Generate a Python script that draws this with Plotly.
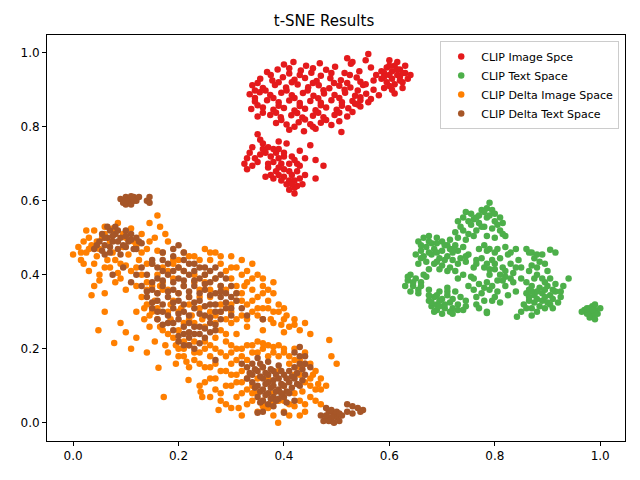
import plotly.graph_objects as go

# t-SNE coordinates (x, y)
image_space = [
    (0.400, 0.968), (0.418, 0.975), (0.442, 0.965), (0.468, 0.972), (0.497, 0.962), (0.527, 0.970),
    (0.368, 0.948), (0.388, 0.955), (0.410, 0.944), (0.432, 0.952), (0.452, 0.946), (0.480, 0.954),
    (0.515, 0.945), (0.543, 0.950),
    (0.355, 0.930), (0.378, 0.925), (0.398, 0.934), (0.420, 0.927), (0.440, 0.932), (0.462, 0.924),
    (0.488, 0.931), (0.508, 0.926), (0.538, 0.933),
    (0.340, 0.912), (0.360, 0.905), (0.383, 0.913), (0.404, 0.906), (0.426, 0.914), (0.446, 0.907),
    (0.466, 0.912), (0.486, 0.904), (0.505, 0.911), (0.526, 0.906), (0.550, 0.913),
    (0.335, 0.888), (0.354, 0.893), (0.374, 0.886), (0.395, 0.892), (0.415, 0.885), (0.436, 0.891),
    (0.456, 0.884), (0.476, 0.890), (0.496, 0.886), (0.516, 0.892), (0.535, 0.884), (0.556, 0.889),
    (0.345, 0.868), (0.368, 0.872), (0.390, 0.866), (0.410, 0.871), (0.430, 0.864), (0.450, 0.870),
    (0.470, 0.865), (0.490, 0.872), (0.510, 0.866), (0.530, 0.870), (0.560, 0.866),
    (0.338, 0.848), (0.360, 0.852), (0.380, 0.846), (0.400, 0.851), (0.420, 0.844), (0.440, 0.849),
    (0.460, 0.845), (0.480, 0.852), (0.500, 0.846), (0.522, 0.850), (0.545, 0.855),
    (0.350, 0.828), (0.374, 0.832), (0.394, 0.826), (0.414, 0.831), (0.435, 0.825), (0.455, 0.830),
    (0.475, 0.826), (0.496, 0.832), (0.520, 0.828),
    (0.385, 0.810), (0.405, 0.806), (0.428, 0.812), (0.450, 0.807), (0.470, 0.811), (0.490, 0.805),
    (0.410, 0.792), (0.438, 0.788), (0.460, 0.795), (0.509, 0.786),
    (0.410, 0.958), (0.455, 0.958), (0.490, 0.945), (0.375, 0.940), (0.430, 0.940), (0.470, 0.938),
    (0.525, 0.940), (0.350, 0.918), (0.390, 0.920), (0.415, 0.920), (0.455, 0.918), (0.495, 0.918),
    (0.520, 0.918), (0.545, 0.922), (0.345, 0.898), (0.365, 0.898), (0.405, 0.898), (0.445, 0.898),
    (0.475, 0.899), (0.515, 0.900), (0.540, 0.898), (0.345, 0.878), (0.380, 0.878), (0.420, 0.878),
    (0.465, 0.877), (0.505, 0.878), (0.545, 0.872), (0.350, 0.858), (0.390, 0.857), (0.430, 0.856),
    (0.470, 0.858), (0.510, 0.857), (0.535, 0.862), (0.360, 0.838), (0.385, 0.838), (0.425, 0.837),
    (0.465, 0.838), (0.505, 0.838), (0.530, 0.840), (0.395, 0.818), (0.440, 0.820), (0.480, 0.818),
    (0.505, 0.815), (0.420, 0.800), (0.455, 0.800),
    (0.585, 0.950), (0.595, 0.960), (0.610, 0.965), (0.620, 0.955), (0.630, 0.945), (0.635, 0.930),
    (0.625, 0.920), (0.610, 0.915), (0.595, 0.920), (0.585, 0.930), (0.600, 0.940), (0.615, 0.940),
    (0.605, 0.950), (0.620, 0.935), (0.590, 0.905), (0.605, 0.900), (0.625, 0.905), (0.575, 0.940),
    (0.570, 0.925), (0.615, 0.975), (0.600, 0.980), (0.630, 0.965), (0.640, 0.940), (0.610, 0.890),
    (0.590, 0.945), (0.605, 0.930), (0.615, 0.955), (0.625, 0.945), (0.600, 0.965), (0.590, 0.935),
    (0.620, 0.925), (0.600, 0.910),
    (0.560, 0.997), (0.555, 0.980), (0.565, 0.960), (0.570, 0.900), (0.555, 0.915), (0.545, 0.880),
    (0.565, 0.875), (0.580, 0.885), (0.540, 0.860), (0.530, 0.975), (0.520, 0.985),
    (0.325, 0.700), (0.330, 0.715), (0.335, 0.730), (0.340, 0.745), (0.330, 0.685),
    (0.350, 0.780), (0.355, 0.765), (0.360, 0.755), (0.370, 0.745), (0.365, 0.730),
    (0.375, 0.720), (0.385, 0.730), (0.380, 0.705), (0.390, 0.715), (0.395, 0.700),
    (0.370, 0.690), (0.385, 0.680), (0.400, 0.685), (0.410, 0.700), (0.415, 0.720),
    (0.400, 0.665), (0.415, 0.670), (0.425, 0.680), (0.430, 0.695), (0.420, 0.655),
    (0.405, 0.645), (0.410, 0.630), (0.425, 0.640), (0.430, 0.660), (0.440, 0.670),
    (0.395, 0.655), (0.380, 0.660), (0.365, 0.665), (0.375, 0.670), (0.420, 0.620),
    (0.435, 0.645), (0.440, 0.715), (0.405, 0.755), (0.390, 0.740), (0.400, 0.720),
    (0.450, 0.750), (0.460, 0.710), (0.475, 0.695), (0.460, 0.660), (0.430, 0.735),
    (0.355, 0.725), (0.350, 0.705), (0.425, 0.700), (0.390, 0.760),
    (0.370, 0.700), (0.390, 0.690), (0.410, 0.680), (0.410, 0.655), (0.420, 0.635), (0.400, 0.730),
    (0.380, 0.740), (0.360, 0.740), (0.345, 0.715), (0.340, 0.695), (0.420, 0.710), (0.415, 0.645),
    (0.390, 0.670),
]

text_space = [
    (0.730, 0.545), (0.740, 0.555), (0.745, 0.570), (0.755, 0.565), (0.760, 0.550), (0.770, 0.560),
    (0.775, 0.575), (0.785, 0.580), (0.790, 0.595), (0.795, 0.575), (0.800, 0.565), (0.810, 0.555),
    (0.815, 0.540), (0.800, 0.545), (0.785, 0.555), (0.770, 0.540), (0.755, 0.535), (0.740, 0.520),
    (0.750, 0.510), (0.765, 0.520), (0.780, 0.530), (0.795, 0.525), (0.810, 0.520), (0.820, 0.505),
    (0.800, 0.500), (0.785, 0.505), (0.735, 0.530), (0.725, 0.515), (0.745, 0.495),
    (0.750, 0.545), (0.765, 0.555), (0.780, 0.570), (0.790, 0.560), (0.805, 0.535), (0.775, 0.530),
    (0.760, 0.505), (0.730, 0.500), (0.815, 0.510),
    (0.655, 0.490), (0.665, 0.500), (0.675, 0.505), (0.690, 0.500), (0.700, 0.490), (0.715, 0.495),
    (0.725, 0.480), (0.740, 0.475), (0.730, 0.465), (0.715, 0.470), (0.700, 0.465), (0.685, 0.470),
    (0.670, 0.475), (0.660, 0.465), (0.650, 0.455), (0.665, 0.450), (0.680, 0.455), (0.695, 0.445),
    (0.710, 0.450), (0.720, 0.440), (0.735, 0.445), (0.745, 0.435), (0.750, 0.455), (0.700, 0.425),
    (0.715, 0.420), (0.685, 0.430), (0.670, 0.435), (0.655, 0.430), (0.725, 0.410), (0.740, 0.400),
    (0.760, 0.420), (0.755, 0.395), (0.765, 0.440), (0.680, 0.485), (0.705, 0.480),
    (0.660, 0.480), (0.675, 0.490), (0.690, 0.485), (0.710, 0.480), (0.720, 0.460), (0.690, 0.460),
    (0.675, 0.460), (0.660, 0.445), (0.690, 0.435), (0.705, 0.440), (0.730, 0.430), (0.710, 0.410),
    (0.695, 0.415), (0.745, 0.450), (0.675, 0.415), (0.730, 0.390), (0.720, 0.470),
    (0.640, 0.400), (0.635, 0.385), (0.645, 0.370), (0.640, 0.355), (0.655, 0.360), (0.660, 0.380),
    (0.650, 0.390), (0.665, 0.400), (0.630, 0.370), (0.670, 0.395), (0.645, 0.380), (0.655, 0.350),
    (0.635, 0.395), (0.660, 0.370),
    (0.675, 0.330), (0.685, 0.340), (0.690, 0.320), (0.700, 0.335), (0.710, 0.345), (0.715, 0.325),
    (0.705, 0.310), (0.690, 0.305), (0.680, 0.315), (0.720, 0.310), (0.730, 0.320), (0.735, 0.340),
    (0.725, 0.355), (0.710, 0.365), (0.695, 0.355), (0.700, 0.295), (0.745, 0.330), (0.740, 0.305),
    (0.715, 0.300), (0.675, 0.360), (0.685, 0.300),
    (0.680, 0.325), (0.695, 0.330), (0.705, 0.320), (0.720, 0.335), (0.730, 0.305), (0.695, 0.315),
    (0.710, 0.355), (0.690, 0.345), (0.720, 0.295), (0.745, 0.315), (0.675, 0.345),
    (0.770, 0.470), (0.780, 0.480), (0.790, 0.470), (0.800, 0.460), (0.820, 0.475), (0.830, 0.460),
    (0.840, 0.470), (0.810, 0.445), (0.795, 0.440), (0.775, 0.445), (0.765, 0.430), (0.780, 0.420),
    (0.790, 0.400), (0.800, 0.415), (0.815, 0.420), (0.830, 0.430), (0.845, 0.440), (0.850, 0.420),
    (0.835, 0.405), (0.820, 0.395), (0.805, 0.385), (0.785, 0.380), (0.770, 0.375), (0.760, 0.360),
    (0.775, 0.350), (0.790, 0.360), (0.805, 0.355), (0.820, 0.370), (0.835, 0.380), (0.850, 0.390),
    (0.780, 0.330), (0.795, 0.330), (0.810, 0.325), (0.765, 0.320), (0.785, 0.300), (0.760, 0.390),
    (0.750, 0.370), (0.825, 0.345), (0.840, 0.355),
    (0.785, 0.465), (0.805, 0.470), (0.825, 0.455), (0.800, 0.430), (0.785, 0.430), (0.820, 0.410),
    (0.810, 0.400), (0.795, 0.370), (0.780, 0.365), (0.815, 0.385), (0.830, 0.390), (0.765, 0.340),
    (0.800, 0.340), (0.770, 0.310), (0.840, 0.420), (0.790, 0.415),
    (0.860, 0.470), (0.870, 0.460), (0.875, 0.445), (0.890, 0.455), (0.905, 0.468), (0.915, 0.460),
    (0.895, 0.430), (0.880, 0.420), (0.865, 0.410), (0.880, 0.400), (0.890, 0.390), (0.900, 0.410),
    (0.860, 0.380), (0.870, 0.370), (0.885, 0.365), (0.900, 0.370), (0.915, 0.375), (0.860, 0.350),
    (0.875, 0.345), (0.890, 0.350), (0.905, 0.345), (0.915, 0.355), (0.925, 0.340), (0.920, 0.325),
    (0.905, 0.320), (0.890, 0.330), (0.875, 0.325), (0.865, 0.330), (0.855, 0.320), (0.870, 0.310),
    (0.895, 0.310), (0.880, 0.300), (0.910, 0.335), (0.940, 0.390), (0.930, 0.370), (0.850, 0.300),
    (0.842, 0.287), (0.870, 0.290), (0.785, 0.297),
    (0.865, 0.460), (0.880, 0.455), (0.885, 0.435), (0.870, 0.425), (0.875, 0.390), (0.895, 0.380),
    (0.905, 0.390), (0.865, 0.360), (0.880, 0.355), (0.895, 0.360), (0.910, 0.360), (0.880, 0.335),
    (0.895, 0.340), (0.900, 0.325), (0.885, 0.315), (0.860, 0.310), (0.865, 0.340), (0.910, 0.310),
    (0.925, 0.355), (0.870, 0.355),
    (0.975, 0.310), (0.980, 0.300), (0.985, 0.315), (0.990, 0.305), (0.995, 0.295), (0.985, 0.290),
    (0.975, 0.295), (0.970, 0.305), (0.990, 0.320), (0.980, 0.285), (1.000, 0.310), (0.990, 0.280),
    (0.965, 0.300), (0.980, 0.310), (0.990, 0.295), (0.985, 0.305),
]

delta_image_space = [
    (0.000, 0.455), (0.010, 0.475), (0.015, 0.440), (0.020, 0.490), (0.025, 0.460), (0.030, 0.500),
    (0.035, 0.480), (0.040, 0.520), (0.045, 0.450), (0.050, 0.470), (0.055, 0.500), (0.060, 0.530),
    (0.065, 0.440), (0.070, 0.490), (0.075, 0.460), (0.080, 0.510), (0.085, 0.540), (0.090, 0.430),
    (0.095, 0.475), (0.100, 0.500), (0.105, 0.455), (0.110, 0.525), (0.120, 0.480), (0.125, 0.440),
    (0.130, 0.510), (0.140, 0.470), (0.145, 0.540), (0.150, 0.430), (0.155, 0.500), (0.160, 0.465),
    (0.030, 0.410), (0.050, 0.400), (0.070, 0.420), (0.090, 0.390), (0.110, 0.410), (0.130, 0.400),
    (0.120, 0.370), (0.100, 0.360), (0.080, 0.380), (0.060, 0.350), (0.040, 0.370), (0.020, 0.430),
    (0.035, 0.345), (0.150, 0.370), (0.170, 0.420), (0.165, 0.530), (0.160, 0.560), (0.180, 0.490),
    (0.025, 0.520),
    (0.015, 0.460), (0.030, 0.470), (0.045, 0.490), (0.060, 0.510), (0.075, 0.525), (0.095, 0.510),
    (0.115, 0.490), (0.130, 0.460), (0.145, 0.490), (0.060, 0.420), (0.080, 0.440), (0.100, 0.425),
    (0.120, 0.420), (0.140, 0.430), (0.085, 0.405), (0.040, 0.430), (0.050, 0.385), (0.140, 0.360),
    (0.160, 0.400), (0.170, 0.460), (0.175, 0.510),
    (0.130, 0.340), (0.140, 0.320), (0.120, 0.300), (0.135, 0.280), (0.150, 0.300), (0.145, 0.260),
    (0.160, 0.280), (0.170, 0.250), (0.155, 0.220), (0.175, 0.210), (0.190, 0.230), (0.180, 0.190),
    (0.200, 0.200), (0.210, 0.180), (0.195, 0.160), (0.220, 0.150), (0.160, 0.350), (0.170, 0.380),
    (0.180, 0.410), (0.190, 0.440), (0.210, 0.460), (0.230, 0.450), (0.250, 0.470), (0.270, 0.460),
    (0.260, 0.440), (0.280, 0.430), (0.300, 0.450), (0.290, 0.410), (0.310, 0.420), (0.320, 0.440),
    (0.330, 0.410), (0.340, 0.430), (0.350, 0.400), (0.330, 0.380), (0.310, 0.370), (0.300, 0.390),
    (0.290, 0.360), (0.320, 0.350), (0.340, 0.360), (0.360, 0.370), (0.350, 0.340), (0.330, 0.320),
    (0.310, 0.330), (0.300, 0.300), (0.320, 0.290), (0.340, 0.300), (0.360, 0.310), (0.370, 0.330),
    (0.380, 0.350), (0.390, 0.320), (0.380, 0.300), (0.400, 0.310), (0.360, 0.280), (0.330, 0.260),
    (0.310, 0.240), (0.290, 0.220), (0.300, 0.270), (0.280, 0.250), (0.270, 0.200), (0.250, 0.220),
    (0.260, 0.180), (0.240, 0.190), (0.230, 0.170), (0.220, 0.210), (0.200, 0.250), (0.220, 0.280),
    (0.240, 0.310), (0.260, 0.340), (0.280, 0.320), (0.250, 0.380), (0.230, 0.400), (0.210, 0.370),
    (0.190, 0.330), (0.200, 0.300), (0.270, 0.290), (0.240, 0.360), (0.220, 0.340), (0.180, 0.300),
    (0.170, 0.360), (0.140, 0.380), (0.200, 0.420), (0.360, 0.250), (0.380, 0.270), (0.400, 0.280),
    (0.410, 0.260), (0.420, 0.280), (0.430, 0.250), (0.450, 0.240), (0.440, 0.270),
    (0.135, 0.310), (0.145, 0.290), (0.160, 0.310), (0.165, 0.260), (0.180, 0.240), (0.195, 0.210),
    (0.210, 0.200), (0.200, 0.180), (0.230, 0.190), (0.215, 0.165), (0.240, 0.160), (0.250, 0.200),
    (0.260, 0.210), (0.270, 0.230), (0.290, 0.240), (0.300, 0.210), (0.280, 0.190), (0.230, 0.220),
    (0.210, 0.220), (0.185, 0.280), (0.210, 0.270), (0.230, 0.270), (0.250, 0.260), (0.270, 0.270),
    (0.290, 0.280), (0.310, 0.280), (0.330, 0.280), (0.350, 0.290), (0.350, 0.310), (0.340, 0.330),
    (0.360, 0.350), (0.370, 0.360), (0.380, 0.380), (0.360, 0.390), (0.340, 0.390), (0.320, 0.400),
    (0.300, 0.420), (0.280, 0.450), (0.260, 0.460), (0.240, 0.440), (0.220, 0.450), (0.200, 0.440),
    (0.190, 0.390), (0.210, 0.410), (0.230, 0.380), (0.250, 0.400), (0.270, 0.390), (0.280, 0.370),
    (0.260, 0.360), (0.240, 0.340), (0.220, 0.320), (0.200, 0.350), (0.180, 0.360), (0.185, 0.320),
    (0.155, 0.330), (0.165, 0.370), (0.190, 0.430), (0.300, 0.320), (0.280, 0.300), (0.260, 0.300),
    (0.245, 0.280), (0.225, 0.290), (0.205, 0.310), (0.320, 0.330), (0.325, 0.370), (0.310, 0.350),
    (0.370, 0.310), (0.390, 0.300), (0.375, 0.280), (0.395, 0.265), (0.405, 0.290), (0.420, 0.265),
    (0.400, 0.245),
    (0.290, 0.180), (0.300, 0.160), (0.310, 0.200), (0.320, 0.180), (0.330, 0.210), (0.340, 0.190),
    (0.350, 0.220), (0.360, 0.200), (0.370, 0.210), (0.380, 0.190), (0.390, 0.210), (0.400, 0.200),
    (0.410, 0.180), (0.420, 0.200), (0.430, 0.170), (0.440, 0.190), (0.450, 0.160), (0.460, 0.140),
    (0.470, 0.120), (0.480, 0.100), (0.460, 0.090), (0.440, 0.110), (0.450, 0.070), (0.430, 0.060),
    (0.420, 0.080), (0.410, 0.050), (0.400, 0.030), (0.389, 0.000), (0.380, 0.020), (0.370, 0.040),
    (0.360, 0.060), (0.350, 0.080), (0.340, 0.100), (0.330, 0.120), (0.320, 0.140), (0.310, 0.110),
    (0.300, 0.130), (0.290, 0.100), (0.310, 0.070), (0.330, 0.050), (0.350, 0.030), (0.300, 0.040),
    (0.280, 0.060), (0.270, 0.090), (0.260, 0.120), (0.280, 0.140), (0.250, 0.150), (0.240, 0.100),
    (0.242, 0.084), (0.219, 0.116), (0.245, 0.070), (0.276, 0.035), (0.314, 0.040), (0.172, 0.070),
    (0.162, 0.149), (0.486, 0.224), (0.490, 0.180), (0.500, 0.160), (0.470, 0.050), (0.440, 0.030),
    (0.360, 0.150), (0.370, 0.120), (0.390, 0.140), (0.400, 0.100), (0.380, 0.080), (0.420, 0.130),
    (0.430, 0.150), (0.390, 0.060),
    (0.300, 0.190), (0.320, 0.200), (0.340, 0.210), (0.360, 0.215), (0.380, 0.205), (0.400, 0.190),
    (0.420, 0.170), (0.440, 0.160), (0.455, 0.130), (0.465, 0.105), (0.450, 0.100), (0.435, 0.085),
    (0.440, 0.050), (0.420, 0.045), (0.400, 0.060), (0.380, 0.055), (0.360, 0.045), (0.340, 0.060),
    (0.320, 0.080), (0.320, 0.110), (0.310, 0.130), (0.300, 0.100), (0.290, 0.140), (0.270, 0.120),
    (0.260, 0.150), (0.270, 0.160), (0.310, 0.170), (0.330, 0.170), (0.350, 0.190), (0.370, 0.180),
    (0.390, 0.180), (0.410, 0.160), (0.430, 0.130), (0.450, 0.120), (0.470, 0.090), (0.350, 0.120),
    (0.340, 0.080), (0.330, 0.090), (0.280, 0.080), (0.260, 0.070), (0.250, 0.110), (0.290, 0.050),
    (0.320, 0.020), (0.410, 0.020), (0.430, 0.020), (0.460, 0.060),
    (0.048, 0.250), (0.078, 0.216), (0.060, 0.300), (0.090, 0.270), (0.100, 0.245), (0.120, 0.230),
    (0.110, 0.200), (0.140, 0.190),
]

delta_text_space = [
    (0.095, 0.600), (0.100, 0.610), (0.105, 0.595), (0.110, 0.605), (0.115, 0.610), (0.120, 0.600),
    (0.100, 0.590), (0.110, 0.590), (0.125, 0.610), (0.140, 0.600), (0.145, 0.610), (0.145, 0.595),
    (0.090, 0.605), (0.105, 0.605), (0.100, 0.600), (0.115, 0.600), (0.095, 0.595), (0.110, 0.612),
    (0.040, 0.470), (0.050, 0.490), (0.055, 0.510), (0.060, 0.480), (0.065, 0.500), (0.070, 0.520),
    (0.075, 0.490), (0.080, 0.510), (0.085, 0.470), (0.090, 0.500), (0.095, 0.480), (0.100, 0.520),
    (0.105, 0.490), (0.110, 0.510), (0.115, 0.470), (0.120, 0.500), (0.070, 0.460), (0.060, 0.455),
    (0.090, 0.455), (0.080, 0.530), (0.120, 0.470), (0.130, 0.485), (0.095, 0.420), (0.075, 0.400),
    (0.110, 0.380),
    (0.045, 0.480), (0.060, 0.500), (0.075, 0.505), (0.085, 0.490), (0.100, 0.505), (0.100, 0.475),
    (0.070, 0.475), (0.110, 0.495), (0.085, 0.520), (0.125, 0.490), (0.065, 0.530), (0.055, 0.465),
    (0.170, 0.460), (0.190, 0.450), (0.200, 0.480), (0.210, 0.440), (0.150, 0.440), (0.160, 0.420),
    (0.180, 0.430), (0.200, 0.420), (0.220, 0.430), (0.240, 0.420), (0.260, 0.410), (0.280, 0.400),
    (0.140, 0.400), (0.160, 0.390), (0.180, 0.400), (0.200, 0.390), (0.220, 0.400), (0.240, 0.390),
    (0.260, 0.380), (0.270, 0.420), (0.130, 0.370), (0.150, 0.360), (0.170, 0.370), (0.190, 0.360),
    (0.210, 0.370), (0.230, 0.370), (0.250, 0.360), (0.270, 0.350), (0.290, 0.390), (0.300, 0.370),
    (0.140, 0.340), (0.160, 0.330), (0.180, 0.340), (0.200, 0.330), (0.220, 0.340), (0.240, 0.330),
    (0.260, 0.320), (0.280, 0.340), (0.150, 0.310), (0.170, 0.300), (0.190, 0.310), (0.210, 0.300),
    (0.230, 0.310), (0.250, 0.290), (0.270, 0.300), (0.290, 0.310), (0.160, 0.280), (0.180, 0.270),
    (0.200, 0.280), (0.220, 0.270), (0.240, 0.260), (0.260, 0.270), (0.280, 0.280), (0.190, 0.250),
    (0.210, 0.240), (0.230, 0.240), (0.250, 0.230), (0.270, 0.250), (0.220, 0.210), (0.240, 0.215),
    (0.200, 0.220), (0.300, 0.290), (0.310, 0.330), (0.320, 0.310), (0.300, 0.340), (0.270, 0.170),
    (0.330, 0.290), (0.360, 0.280), (0.220, 0.245),
    (0.150, 0.430), (0.170, 0.440), (0.190, 0.470), (0.210, 0.460), (0.230, 0.430), (0.250, 0.420),
    (0.170, 0.410), (0.190, 0.410), (0.210, 0.410), (0.230, 0.410), (0.250, 0.400), (0.270, 0.390),
    (0.150, 0.380), (0.170, 0.385), (0.190, 0.380), (0.210, 0.385), (0.230, 0.385), (0.250, 0.375),
    (0.280, 0.370), (0.140, 0.355), (0.160, 0.350), (0.180, 0.355), (0.200, 0.350), (0.220, 0.355),
    (0.240, 0.350), (0.260, 0.345), (0.280, 0.355), (0.150, 0.325), (0.170, 0.320), (0.190, 0.325),
    (0.210, 0.320), (0.230, 0.325), (0.250, 0.315), (0.270, 0.320), (0.290, 0.325), (0.160, 0.300),
    (0.180, 0.290), (0.200, 0.295), (0.220, 0.290), (0.240, 0.295), (0.260, 0.285), (0.280, 0.300),
    (0.170, 0.265), (0.190, 0.270), (0.210, 0.260), (0.230, 0.260), (0.250, 0.255), (0.270, 0.265),
    (0.200, 0.235), (0.220, 0.230), (0.240, 0.240), (0.260, 0.245), (0.230, 0.200), (0.210, 0.210),
    (0.290, 0.350), (0.310, 0.350), (0.300, 0.310), (0.120, 0.400), (0.130, 0.420),
    (0.330, 0.150), (0.340, 0.160), (0.350, 0.140), (0.360, 0.150), (0.370, 0.130), (0.380, 0.140),
    (0.390, 0.120), (0.400, 0.130), (0.410, 0.140), (0.420, 0.150), (0.430, 0.160), (0.440, 0.180),
    (0.420, 0.190), (0.430, 0.205), (0.330, 0.120), (0.340, 0.110), (0.350, 0.100), (0.360, 0.090),
    (0.370, 0.110), (0.380, 0.100), (0.390, 0.090), (0.400, 0.100), (0.410, 0.110), (0.420, 0.120),
    (0.430, 0.100), (0.440, 0.130), (0.350, 0.070), (0.360, 0.060), (0.370, 0.080), (0.380, 0.070),
    (0.390, 0.065), (0.400, 0.070), (0.410, 0.080), (0.420, 0.060), (0.370, 0.050), (0.360, 0.030),
    (0.380, 0.045), (0.350, 0.175), (0.370, 0.165), (0.390, 0.155), (0.360, 0.120), (0.340, 0.130),
    (0.450, 0.150), (0.320, 0.160), (0.400, 0.027), (0.350, 0.027),
    (0.335, 0.135), (0.345, 0.145), (0.355, 0.125), (0.365, 0.135), (0.375, 0.145), (0.385, 0.130),
    (0.395, 0.140), (0.405, 0.120), (0.415, 0.125), (0.425, 0.135), (0.435, 0.145), (0.345, 0.095),
    (0.355, 0.085), (0.365, 0.105), (0.375, 0.095), (0.385, 0.085), (0.395, 0.105), (0.405, 0.085),
    (0.415, 0.095), (0.425, 0.105), (0.435, 0.115), (0.365, 0.075), (0.375, 0.065), (0.385, 0.060),
    (0.395, 0.080), (0.405, 0.055), (0.355, 0.055), (0.380, 0.115), (0.430, 0.180), (0.440, 0.160),
    (0.355, 0.160),
    (0.470, 0.020), (0.480, 0.010), (0.490, 0.005), (0.500, 0.015), (0.485, 0.030), (0.495, 0.025),
    (0.505, 0.005), (0.480, 0.040), (0.490, 0.035), (0.510, 0.020), (0.475, 0.005), (0.520, 0.030),
    (0.530, 0.045), (0.540, 0.040), (0.550, 0.035), (0.520, 0.050), (0.530, 0.025), (0.545, 0.030),
    (0.480, 0.020), (0.490, 0.015), (0.500, 0.030), (0.485, 0.005), (0.495, 0.000), (0.505, 0.025),
]

series_names = ["CLIP Image Spce", "CLIP Text Space", "CLIP Delta Image Space", "CLIP Delta Text Space"]
series_colors = ["#e41a1c", "#4daf4a", "#ff7f00", "#a65628"]
series_points = [image_space, text_space, delta_image_space, delta_text_space]

x_ticks = [0.0, 0.2, 0.4, 0.6, 0.8, 1.0]
y_ticks = [0.0, 0.2, 0.4, 0.6, 0.8, 1.0]

fig = go.Figure()

for name, color, pts in zip(series_names, series_colors, series_points):
    xs, ys = zip(*pts)
    fig.add_trace(
        go.Scatter(
            x=xs,
            y=ys,
            mode="markers",
            name=name,
            marker=dict(color=color, size=6.5, line=dict(width=0)),
        )
    )

axis_style = dict(
    showline=True,
    mirror=True,
    linecolor="black",
    linewidth=1,
    ticks="outside",
    ticklen=4,
    tickcolor="black",
    showgrid=False,
    zeroline=False,
    automargin=False,
    tickfont=dict(size=12, color="black"),
)

# the page body adds an 8px margin, so the figure is sized 8px smaller
fig.update_layout(
    width=632,
    height=472,
    margin=dict(l=39, r=15, t=27, b=39),
    paper_bgcolor="white",
    plot_bgcolor="white",
    font=dict(family="DejaVu Sans", color="black"),
    title=dict(text="t-SNE Results", x=0.5, xanchor="center", y=1 - 13 / 472, yanchor="middle",
               font=dict(size=15)),
    xaxis=dict(range=[-0.0495, 1.047], tickvals=x_ticks, ticktext=[f"{v:.1f}" for v in x_ticks], **axis_style),
    yaxis=dict(range=[-0.049, 1.048], tickvals=y_ticks, ticktext=[f"{v:.1f}" for v in y_ticks], **axis_style),
    legend=dict(
        x=0.99, y=0.985, xanchor="right", yanchor="top",
        bgcolor="rgba(255,255,255,0.8)", bordercolor="#cccccc", borderwidth=1,
        font=dict(size=11), itemsizing="trace", itemwidth=30, tracegroupgap=0,
    ),
)

fig.write_html("out.html")
